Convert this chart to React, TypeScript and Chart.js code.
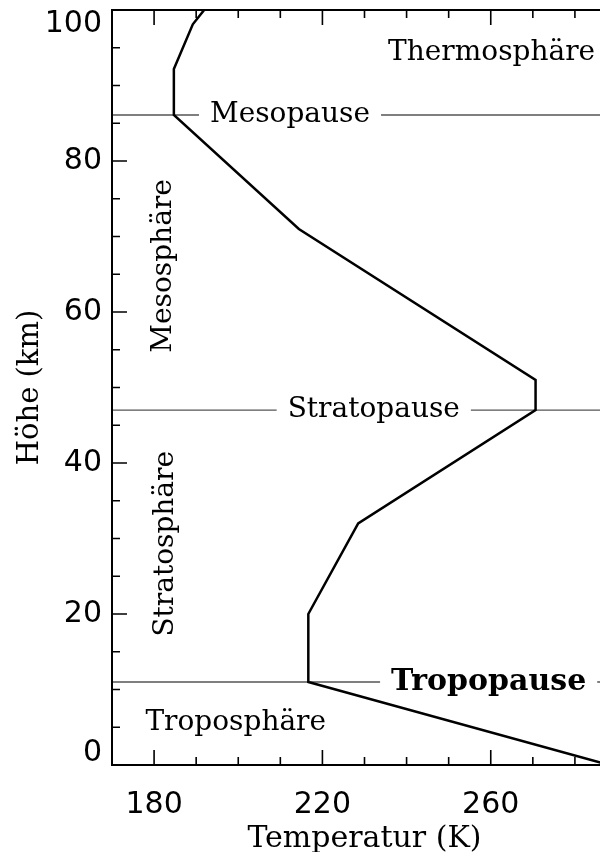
import React, { useEffect, useRef } from "react";
import { Chart, registerables } from "chart.js";

Chart.register(...registerables);

// Standard atmosphere profile
const altitudeKm = [0, 11, 20, 32, 47, 51, 71, 86.1, 92.2, 98.1, 100];
const temperatureK = [288.15, 216.65, 216.65, 228.5, 270.65, 270.65, 214.4, 184.7, 184.7, 189.2, 191.9];

// Boundary layers (pauses)
const pauseNames = ["Mesopause", "Stratopause", "Tropopause"];
const pauseAltitudes = [86.1, 47, 11];
const pauseLabelTemps = [212.3, 232.2, 259.5];
const pauseBold = [false, false, true];

// Layer names
const layerNames = ["Thermosphäre", "Mesosphäre", "Stratosphäre", "Troposphäre"];
const layerTemps = [260.2, 182.3, 182.8, 199.4];
const layerAltitudes = [94.4, 66.1, 29.3, 5.6];
const layerRotated = [false, true, true, false];

// Axes
const xMin = 170;
const xMax = 290;
const yMin = 0;
const yMax = 100;
const xTickLabels = [180, 220, 260];
const yTickLabels = [0, 20, 40, 60, 80, 100];
const xMinorStep = 10;
const yMinorStep = 5;

const SERIF = "'DejaVu Serif', serif";
const SANS = "'DejaVu Sans', sans-serif";

const zeroPadding = (s: any) => {
  s.paddingTop = 0;
  s.paddingBottom = 0;
  s.paddingLeft = 0;
  s.paddingRight = 0;
};

const atmospherePlugin = {
  id: "atmosphere",
  beforeDraw(chart: any) {
    const ys = chart.scales.y;
    const items = ys.getLabelItems();
    if (items && !items.__shifted) {
      items.forEach((it: any) => {
        if (it.label === String(yMin)) it.options.translation[1] -= 12;
        if (it.label === String(yMax)) it.options.translation[1] += 14;
      });
      items.__shifted = true;
    }
  },
  beforeDatasetsDraw(chart: any) {
    const { ctx, chartArea } = chart;
    const xs = chart.scales.x;
    const ys = chart.scales.y;
    ctx.save();
    pauseNames.forEach((name, i) => {
      const y = ys.getPixelForValue(pauseAltitudes[i]);
      const cx = xs.getPixelForValue(pauseLabelTemps[i]);
      ctx.font = pauseBold[i] ? `bold 30px ${SERIF}` : `28px ${SERIF}`;
      const w = ctx.measureText(name).width;
      const gap = 11;
      ctx.strokeStyle = "#555";
      ctx.lineWidth = 1.4;
      ctx.beginPath();
      ctx.moveTo(chartArea.left, y);
      ctx.lineTo(cx - w / 2 - gap, y);
      ctx.moveTo(cx + w / 2 + gap, y);
      ctx.lineTo(chartArea.right, y);
      ctx.stroke();
      ctx.fillStyle = "#000";
      ctx.textAlign = "center";
      ctx.textBaseline = "middle";
      ctx.fillText(name, cx, y);
    });
    layerNames.forEach((name, i) => {
      const x = xs.getPixelForValue(layerTemps[i]);
      const y = ys.getPixelForValue(layerAltitudes[i]);
      ctx.font = `28px ${SERIF}`;
      ctx.fillStyle = "#000";
      ctx.textAlign = "center";
      ctx.textBaseline = "middle";
      ctx.save();
      ctx.translate(x, y);
      if (layerRotated[i]) ctx.rotate(-Math.PI / 2);
      ctx.fillText(name, 0, 0);
      ctx.restore();
    });
    ctx.restore();
  },
  afterDraw(chart: any) {
    const { ctx, chartArea } = chart;
    const xs = chart.scales.x;
    const ys = chart.scales.y;
    const { left, right, top, bottom } = chartArea;
    ctx.save();
    ctx.strokeStyle = "#000";
    ctx.lineWidth = 1.6;
    ctx.beginPath();
    for (let v = xMin + xMinorStep; v < xMax; v += xMinorStep) {
      const major = xTickLabels.includes(v);
      const len = major ? 15 : 8;
      const px = xs.getPixelForValue(v);
      ctx.moveTo(px, bottom);
      ctx.lineTo(px, bottom - len);
      ctx.moveTo(px, top);
      ctx.lineTo(px, top + len);
    }
    for (let v = yMin + yMinorStep; v < yMax; v += yMinorStep) {
      const major = yTickLabels.includes(v);
      const len = major ? 15 : 8;
      const py = ys.getPixelForValue(v);
      ctx.moveTo(left, py);
      ctx.lineTo(left + len, py);
      ctx.moveTo(right, py);
      ctx.lineTo(right - len, py);
    }
    ctx.stroke();
    ctx.lineWidth = 2;
    ctx.strokeRect(left, top, right - left, bottom - top);
    ctx.restore();
  },
};

export default function App() {
  const ref = useRef<HTMLCanvasElement | null>(null);
  useEffect(() => {
    if (!ref.current) return;
    const chart = new Chart(ref.current, {
      type: "scatter",
      data: {
        datasets: [
          {
            data: altitudeKm.map((a, i) => ({ x: temperatureK[i], y: a })),
            showLine: true,
            borderColor: "#000",
            borderWidth: 2.5,
            pointRadius: 0,
            fill: false,
            tension: 0,
          },
        ],
      },
      options: {
        animation: false,
        responsive: false,
        maintainAspectRatio: false,
        devicePixelRatio: 1,
        layout: { padding: { top: 2, right: 11, left: 0, bottom: 0 } },
        plugins: { legend: { display: false }, tooltip: { enabled: false } },
        scales: {
          x: {
            type: "linear",
            position: "bottom",
            min: xMin,
            max: xMax,
            grid: { display: false, drawTicks: false },
            border: { display: false },
            ticks: {
              stepSize: xMinorStep,
              autoSkip: false,
              maxRotation: 0,
              padding: 22,
              color: "#000",
              font: { family: SANS, size: 30 },
              callback: (v: any) => (xTickLabels.includes(Number(v)) ? String(v) : ""),
            },
            title: {
              display: true,
              text: "Temperatur (K)",
              color: "#000",
              font: { family: SERIF, size: 30 },
              padding: { top: 0, bottom: -5 },
            },
            afterFit: (s: any) => {
              s.height = 87;
              zeroPadding(s);
            },
          },
          y: {
            type: "linear",
            min: yMin,
            max: yMax,
            grid: { display: false, drawTicks: false },
            border: { display: false },
            ticks: {
              stepSize: 20,
              autoSkip: false,
              padding: 10,
              color: "#000",
              font: { family: SANS, size: 30 },
              callback: (v: any) => (yTickLabels.includes(Number(v)) ? String(v) : ""),
            },
            title: {
              display: true,
              text: "Höhe (km)",
              color: "#000",
              font: { family: SERIF, size: 29 },
              padding: { top: 5, bottom: 0 },
            },
            afterFit: (s: any) => {
              s.width = 104;
              zeroPadding(s);
            },
          },
        },
      },
      plugins: [atmospherePlugin],
    });
    return () => chart.destroy();
  }, []);
  return (
    <div style={{ width: 600, height: 844, overflow: "hidden" }}>
      <canvas ref={ref} width={620} height={844} style={{ display: "block" }} />
    </div>
  );
}
